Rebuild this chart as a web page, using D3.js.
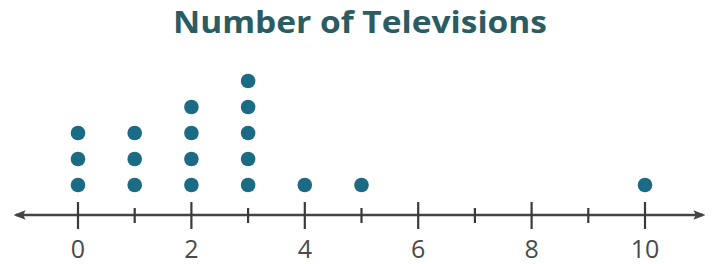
<!DOCTYPE html>
<html>
<head>
<meta charset="utf-8">
<script src="https://cdn.jsdelivr.net/npm/d3@7"></script>
<style>
  body { margin: 0; background: #ffffff; }
  svg { display: block; }
</style>
</head>
<body>
<div id="chart"></div>
<script>
	'use strict'
	// data
	var title = "Number of Televisions";
	var tvValues = [0, 1, 2, 3, 4, 5, 10];
	var tvCounts = [3, 3, 4, 5, 1, 1, 1];
	var tickValues = [0, 1, 2, 3, 4, 5, 6, 7, 8, 9, 10];
	var labelValues = [0, 2, 4, 6, 8, 10];

	var width = 715, height = 264;
	var axisY = 215;

	var svg = d3.select("#chart").append("svg")
				.attr("width", width)
				.attr("height", height);

	var x = d3.scaleLinear()
				.domain([0, 10])
				.range([78, 645]);

	// stack level -> y
	var y = d3.scaleLinear()
				.domain([0, 4])
				.range([185, 81]);

	svg.append("text")
		.attr("x", 360)
		.attr("y", 33)
		.attr("text-anchor", "middle")
		.attr("textLength", 374)
		.attr("lengthAdjust", "spacingAndGlyphs")
		.style("font-family", "'Open Sans', sans-serif")
		.style("font-weight", 700)
		.style("font-size", "30px")
		.style("fill", "#2b5c61")
		.text(title);

	var defs = svg.append("defs");
	defs.append("marker")
		.attr("id", "arr")
		.attr("viewBox", "0 0 10 10")
		.attr("refX", 8).attr("refY", 5)
		.attr("markerWidth", 5).attr("markerHeight", 5)
		.attr("orient", "auto-start-reverse")
		.append("path")
			.attr("d", "M0,1 L10,5 L0,9 L2,5 Z")
			.style("fill", "#444");

	svg.append("line")
		.attr("x1", 16).attr("x2", 703)
		.attr("y1", axisY).attr("y2", axisY)
		.style("stroke", "#444")
		.style("stroke-width", 2.4)
		.attr("marker-start", "url(#arr)")
		.attr("marker-end", "url(#arr)");

	svg.selectAll(".tick").data(tickValues).enter()
		.append("line")
			.attr("class", "tick")
			.attr("x1", function(d){ return x(d); })
			.attr("x2", function(d){ return x(d); })
			.attr("y1", function(d){ return d % 2 === 0 ? axisY - 13 : axisY - 7; })
			.attr("y2", function(d){ return d % 2 === 0 ? axisY + 14 : axisY + 8; })
			.style("stroke", "#3a3a3a")
			.style("stroke-width", 2.2);

	svg.selectAll(".lbl").data(labelValues).enter()
		.append("text")
			.attr("class", "lbl")
			.attr("x", function(d){ return x(d); })
			.attr("y", 258)
			.attr("text-anchor", "middle")
			.style("font-family", "'Open Sans', sans-serif")
			.style("font-size", "25px")
			.style("fill", "#4a4a4a")
			.text(function(d){ return d; });

	// one dot per observation
	var dots = [];
	tvValues.forEach(function(v, i){
		for(var k = 0; k < tvCounts[i]; k++)
			dots.push({v: v, k: k});
	});

	svg.selectAll(".dot").data(dots).enter()
		.append("circle")
			.attr("class", "dot")
			.attr("cx", function(d){ return x(d.v); })
			.attr("cy", function(d){ return y(d.k); })
			.attr("r", 7.3)
			.style("fill", "#1c6b84");
</script>
</body>
</html>
